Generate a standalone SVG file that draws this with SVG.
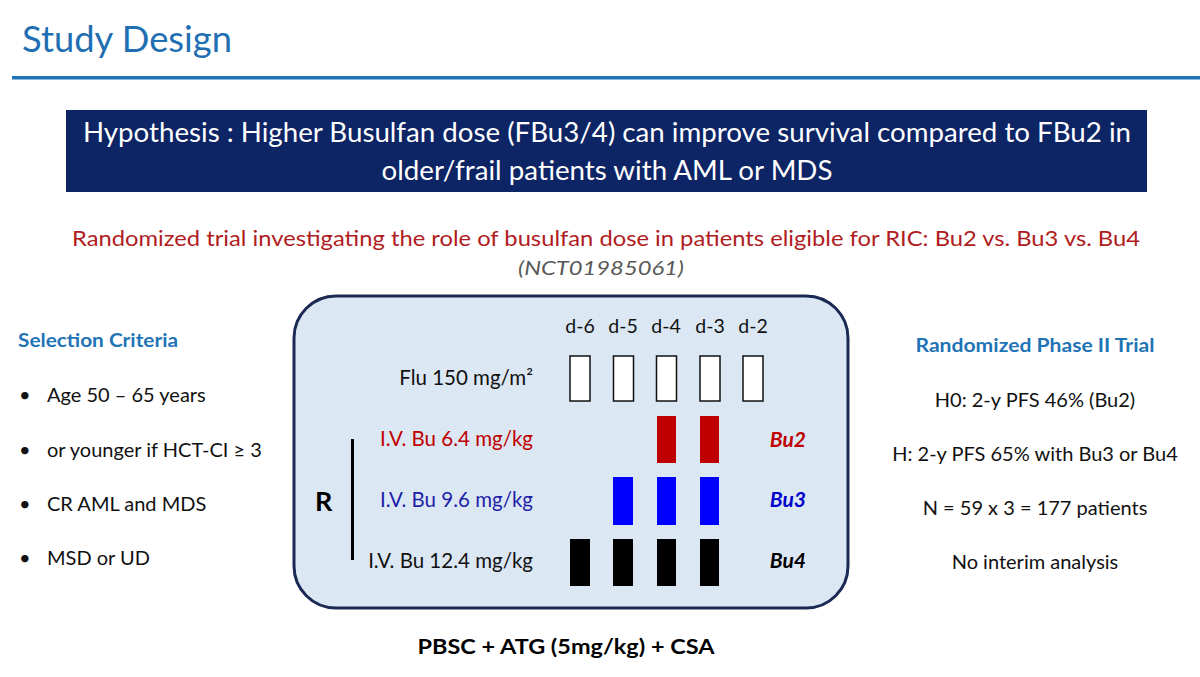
<svg xmlns="http://www.w3.org/2000/svg" width="1200" height="677" viewBox="0 0 1200 677">
<style>
text{font-family:Lato,"Open Sans","Liberation Sans",sans-serif;}
.t{font-size:20px;fill:#111;}
.hd{font-size:19px;font-weight:bold;fill:#1f74b6;}
.lab{font-size:20.5px;text-anchor:end;}
.day{font-size:19.5px;fill:#111;text-anchor:middle;}
.arm{font-size:21px;font-weight:bold;font-style:italic;text-anchor:end;}
.rc{font-size:20px;fill:#111;text-anchor:middle;}
.wb{fill:#fff;stroke:#111;stroke-width:1.5;}
</style>
<rect width="1200" height="677" fill="#fff"/>
<g id="title">
<text x="22" y="52" style="font-size:36px;fill:#1f6fb2" textLength="210" lengthAdjust="spacingAndGlyphs">Study Design</text>
<rect x="12" y="76" width="1188" height="3.5" fill="#1f73b7"/>
</g>
<g id="hypothesis">
<rect x="66" y="110" width="1081" height="82" fill="#0d2465"/>
<text x="607" y="142" style="font-size:27px;fill:#fff;text-anchor:middle" textLength="1048" lengthAdjust="spacingAndGlyphs">Hypothesis : Higher Busulfan dose (FBu3/4) can improve survival compared to FBu2 in</text>
<text x="607" y="180" style="font-size:27px;fill:#fff;text-anchor:middle" textLength="451" lengthAdjust="spacingAndGlyphs">older/frail patients with AML or MDS</text>
</g>
<g id="subtitle">
<text x="606" y="246" style="font-size:22px;fill:#b01c22;text-anchor:middle" textLength="1068" lengthAdjust="spacingAndGlyphs">Randomized trial investigating the role of busulfan dose in patients eligible for RIC: Bu2 vs. Bu3 vs. Bu4</text>
<text x="601" y="275" style="font-size:20px;fill:#595959;font-style:italic;text-anchor:middle" textLength="166" lengthAdjust="spacingAndGlyphs">(NCT01985061)</text>
</g>
<g id="selection-criteria">
<text x="18" y="347" class="hd" textLength="160" lengthAdjust="spacingAndGlyphs">Selection Criteria</text>
<text x="19" y="402" class="t">•</text><text x="47" y="402" class="t">Age 50 – 65 years</text>
<text x="19" y="457" class="t">•</text><text x="47" y="457" class="t">or younger if HCT-CI ≥ 3</text>
<text x="19" y="511" class="t">•</text><text x="47" y="511" class="t">CR AML and MDS</text>
<text x="19" y="565" class="t">•</text><text x="47" y="565" class="t">MSD or UD</text>
</g>
<g id="regimen">
<rect x="294" y="296" width="554" height="312" rx="42" fill="#dbe7f3" stroke="#1b2a55" stroke-width="3"/>
<text x="580" y="333" class="day">d-6</text>
<text x="623" y="333" class="day">d-5</text>
<text x="666" y="333" class="day">d-4</text>
<text x="710" y="333" class="day">d-3</text>
<text x="753" y="333" class="day">d-2</text>
<text x="533" y="385" class="lab" fill="#111">Flu 150 mg/m²</text>
<rect x="570" y="356" width="20" height="45" class="wb"/>
<rect x="613.5" y="356" width="20" height="45" class="wb"/>
<rect x="656.5" y="356" width="20" height="45" class="wb"/>
<rect x="700" y="356" width="20" height="45" class="wb"/>
<rect x="743" y="356" width="20" height="45" class="wb"/>
<text x="533" y="446" class="lab" fill="#c00000">I.V. Bu 6.4 mg/kg</text>
<rect x="657" y="416" width="19" height="47" fill="#c00000"/>
<rect x="700" y="416" width="19" height="47" fill="#c00000"/>
<text x="806" y="447" class="arm" fill="#c00000">Bu2</text>
<text x="533" y="507" class="lab" fill="#1f1fa8">I.V. Bu 9.6 mg/kg</text>
<rect x="613" y="477" width="20" height="48" fill="#0000ff"/>
<rect x="657" y="477" width="19" height="48" fill="#0000ff"/>
<rect x="700" y="477" width="19" height="48" fill="#0000ff"/>
<text x="806" y="507" class="arm" fill="#0000cc">Bu3</text>
<text x="533" y="568" class="lab" fill="#111">I.V. Bu 12.4 mg/kg</text>
<rect x="570" y="539" width="20" height="47" fill="#000"/>
<rect x="613" y="539" width="20" height="47" fill="#000"/>
<rect x="657" y="539" width="19" height="47" fill="#000"/>
<rect x="700" y="539" width="19" height="47" fill="#000"/>
<text x="806" y="568" class="arm" fill="#000">Bu4</text>
<text x="315" y="511" style="font-size:27px;font-weight:bold;fill:#000">R</text>
<rect x="351" y="439" width="3" height="121" fill="#000"/>
</g>
<g id="phase2">
<text x="1035" y="352" class="hd" style="text-anchor:middle" textLength="239" lengthAdjust="spacingAndGlyphs">Randomized Phase II Trial</text>
<text x="1035" y="407" class="rc">H0: 2-y PFS 46% (Bu2)</text>
<text x="1035" y="461" class="rc">H: 2-y PFS 65% with Bu3 or Bu4</text>
<text x="1035" y="515" class="rc">N = 59 x 3 = 177 patients</text>
<text x="1035" y="569" class="rc">No interim analysis</text>
</g>
<g id="footer">
<text x="566" y="654" style="font-size:20px;font-weight:bold;fill:#000;text-anchor:middle" textLength="297" lengthAdjust="spacingAndGlyphs">PBSC + ATG (5mg/kg) + CSA</text>
</g>
</svg>
